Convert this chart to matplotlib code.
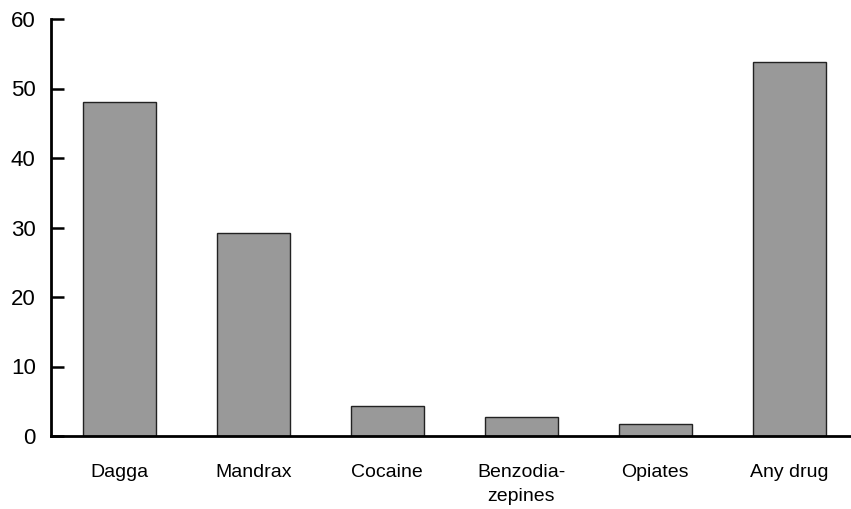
import matplotlib
matplotlib.use('Agg')
from matplotlib import pyplot as plt

# Data
CATEGORIES = ['Dagga', 'Mandrax', 'Cocaine', 'Benzodia-\nzepines', 'Opiates', 'Any drug']
VALUES = [48.0, 29.2, 4.3, 2.7, 1.7, 53.8]
Y_TICKS = [0, 10, 20, 30, 40, 50, 60]

plt.rcParams['font.family'] = ['Liberation Sans Narrow', 'Liberation Sans', 'DejaVu Sans']


def main():
    fig = plt.figure(figsize=(8.51, 5.09), dpi=100)
    ax = fig.add_axes([51 / 851, 73 / 509, 800 / 851, 417 / 509])

    x = list(range(len(CATEGORIES)))
    ax.bar(x, VALUES, width=0.54, color='#999999', edgecolor='#222222', linewidth=1.0)

    ax.set_xlim(-0.51, 5.46)
    ax.set_ylim(0, 60)
    ax.set_yticks(Y_TICKS)
    ax.set_xticks(x)
    ax.set_xticklabels(CATEGORIES, fontsize=14, linespacing=1.55, va='top')

    for side in ['top', 'right']:
        ax.spines[side].set_visible(False)
    ax.spines['left'].set_linewidth(2)
    ax.spines['bottom'].set_linewidth(2)

    ax.tick_params(axis='y', direction='in', length=9, width=1.8, labelsize=16, pad=11)
    ax.tick_params(axis='x', length=0, pad=20)

    fig.savefig('out.png', dpi=100)


if __name__ == '__main__':
    main()
